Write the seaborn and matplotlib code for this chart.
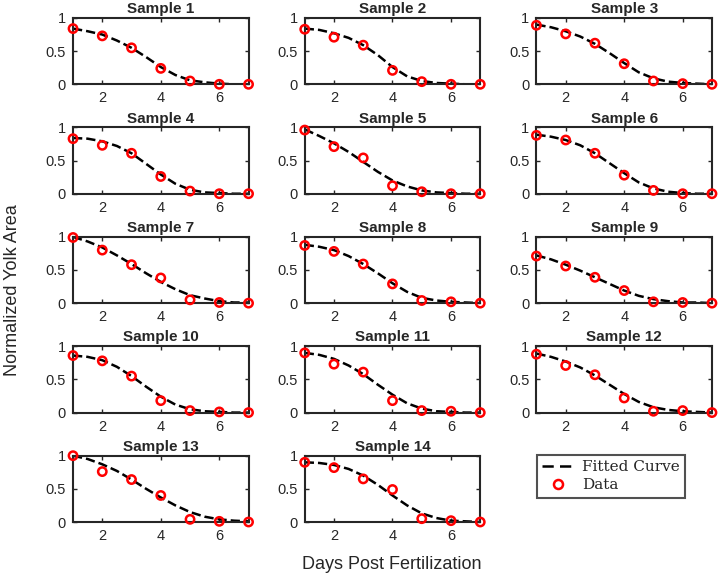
import numpy as np
import pandas as pd
import matplotlib.pyplot as plt
import seaborn as sns
from matplotlib.lines import Line2D

# days post fertilization
days = [1, 2, 3, 4, 5, 6, 7]
fit_days = [1, 1.5, 2, 2.5, 3, 3.5, 4, 4.5, 5, 5.5, 6, 6.5, 7]

# measured normalized yolk area
data_s1 = [0.84, 0.73, 0.55, 0.24, 0.05, 0.00, 0.00]
data_s2 = [0.83, 0.71, 0.59, 0.21, 0.04, 0.00, 0.00]
data_s3 = [0.89, 0.76, 0.62, 0.31, 0.05, 0.01, 0.00]
data_s4 = [0.83, 0.73, 0.61, 0.26, 0.04, 0.00, 0.00]
data_s5 = [0.96, 0.71, 0.54, 0.12, 0.03, 0.00, 0.00]
data_s6 = [0.88, 0.81, 0.61, 0.28, 0.05, 0.00, 0.00]
data_s7 = [0.99, 0.80, 0.58, 0.38, 0.05, 0.01, 0.00]
data_s8 = [0.87, 0.78, 0.59, 0.29, 0.04, 0.02, 0.00]
data_s9 = [0.71, 0.56, 0.39, 0.19, 0.02, 0.01, 0.00]
data_s10 = [0.86, 0.78, 0.55, 0.18, 0.03, 0.01, 0.00]
data_s11 = [0.90, 0.73, 0.61, 0.18, 0.03, 0.02, 0.00]
data_s12 = [0.88, 0.71, 0.57, 0.22, 0.02, 0.03, 0.00]
data_s13 = [1.00, 0.76, 0.64, 0.40, 0.04, 0.01, 0.00]
data_s14 = [0.90, 0.82, 0.65, 0.49, 0.05, 0.02, 0.00]

# fitted curve read at half-day steps
fit_s1 = [0.84, 0.80, 0.75, 0.66, 0.55, 0.41, 0.26, 0.14, 0.06, 0.03, 0.01, 0.00, 0.00]
fit_s2 = [0.84, 0.82, 0.77, 0.70, 0.59, 0.44, 0.26, 0.12, 0.05, 0.02, 0.01, 0.00, 0.00]
fit_s3 = [0.90, 0.86, 0.80, 0.72, 0.61, 0.47, 0.32, 0.18, 0.09, 0.04, 0.02, 0.01, 0.00]
fit_s4 = [0.84, 0.83, 0.79, 0.72, 0.61, 0.45, 0.29, 0.15, 0.06, 0.02, 0.01, 0.00, 0.00]
fit_s5 = [0.97, 0.87, 0.76, 0.63, 0.48, 0.33, 0.20, 0.11, 0.05, 0.02, 0.01, 0.00, 0.00]
fit_s6 = [0.89, 0.86, 0.81, 0.73, 0.61, 0.46, 0.31, 0.17, 0.08, 0.03, 0.01, 0.00, 0.00]
fit_s7 = [1.00, 0.93, 0.84, 0.72, 0.59, 0.45, 0.32, 0.21, 0.12, 0.07, 0.03, 0.01, 0.01]
fit_s8 = [0.88, 0.85, 0.80, 0.71, 0.59, 0.45, 0.30, 0.17, 0.08, 0.04, 0.02, 0.01, 0.00]
fit_s9 = [0.72, 0.66, 0.58, 0.49, 0.39, 0.29, 0.19, 0.11, 0.06, 0.03, 0.01, 0.01, 0.00]
fit_s10 = [0.86, 0.84, 0.79, 0.69, 0.55, 0.39, 0.24, 0.12, 0.05, 0.02, 0.01, 0.00, 0.00]
fit_s11 = [0.90, 0.87, 0.81, 0.71, 0.58, 0.42, 0.27, 0.14, 0.06, 0.02, 0.01, 0.00, 0.00]
fit_s12 = [0.89, 0.84, 0.77, 0.68, 0.56, 0.42, 0.28, 0.16, 0.08, 0.04, 0.02, 0.01, 0.00]
fit_s13 = [1.00, 0.95, 0.87, 0.77, 0.64, 0.50, 0.37, 0.25, 0.15, 0.08, 0.04, 0.02, 0.01]
fit_s14 = [0.90, 0.89, 0.86, 0.80, 0.70, 0.56, 0.40, 0.25, 0.13, 0.06, 0.02, 0.01, 0.00]

data_all = [data_s1, data_s2, data_s3, data_s4, data_s5, data_s6, data_s7,
            data_s8, data_s9, data_s10, data_s11, data_s12, data_s13, data_s14]
fit_all = [fit_s1, fit_s2, fit_s3, fit_s4, fit_s5, fit_s6, fit_s7,
           fit_s8, fit_s9, fit_s10, fit_s11, fit_s12, fit_s13, fit_s14]
titles = ['Sample %d' % (i + 1) for i in range(14)]

dark = '#262626'

sns.set_style('ticks')
plt.rcParams['font.family'] = ['Liberation Sans', 'DejaVu Sans']
plt.rcParams['axes.linewidth'] = 1.5

fig, axes = plt.subplots(5, 3, figsize=(7.18, 5.80), dpi=100)
fig.subplots_adjust(left=0.1017, right=0.9916, top=0.969, bottom=0.10,
                    wspace=0.32, hspace=0.65)

for i, ax in enumerate(axes.flat):
    if i >= 14:
        ax.axis('off')
        continue
    sns.lineplot(x=fit_days, y=fit_all[i], ax=ax, color='black',
                 linewidth=1.8, dashes=(4.5, 2.5), linestyle='--')
    sns.scatterplot(x=days, y=data_all[i], ax=ax, marker='o', s=36,
                    facecolor='none', edgecolor='red', linewidth=1.8,
                    clip_on=False, zorder=5)
    ax.set_xlim(1, 7)
    ax.set_ylim(0, 1)
    ax.set_xticks([2, 4, 6])
    ax.set_yticks([0, 0.5, 1])
    ax.set_yticklabels(['0', '0.5', '1'])
    ax.tick_params(direction='in', length=3, width=1, top=True, right=True,
                   labelsize=10.5, colors=dark, pad=5)
    for sp in ax.spines.values():
        sp.set_color(dark)
        sp.set_linewidth(1.5)
    ax.set_title(titles[i], fontsize=11, fontweight='bold', pad=3.5)
    ax.set_xlabel('')
    ax.set_ylabel('')

handles = [Line2D([], [], color='black', linewidth=1.8, linestyle='--', dashes=(4.5, 2.5)),
           Line2D([], [], color='red', marker='o', markerfacecolor='none',
                  markeredgewidth=1.8, markersize=6.5, linestyle='none')]
leg = fig.legend(handles, ['Fitted Curve', 'Data'], loc='upper left',
                 bbox_to_anchor=(537 / 718, 1 - 455 / 580), frameon=True,
                 fancybox=False, prop={'family': 'DejaVu Serif', 'size': 11},
                 handlelength=2.0, borderpad=0.35, labelspacing=0.25,
                 handletextpad=0.6, borderaxespad=0)
leg.get_frame().set_edgecolor(dark)
leg.get_frame().set_linewidth(1.5)

fig.text(0.018, 0.5, 'Normalized Yolk Area', rotation=90, va='center',
         ha='center', fontsize=13, color=dark)
fig.text(0.546, 0.026, 'Days Post Fertilization', va='center', ha='center',
         fontsize=13, color=dark)

plt.savefig('out.png', dpi=100)
plt.close()
